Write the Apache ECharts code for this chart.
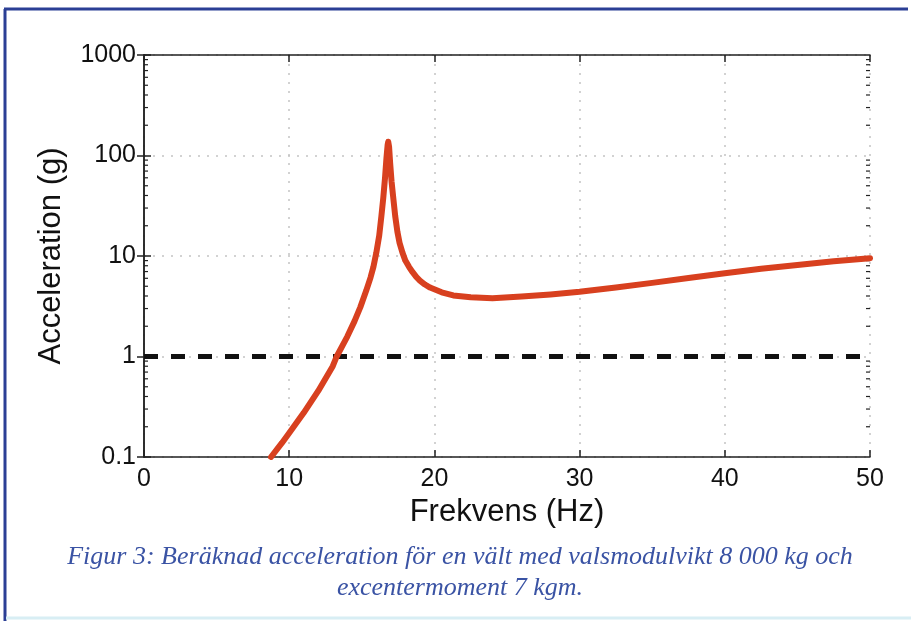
<!DOCTYPE html>
<html>
<head>
<meta charset="utf-8">
<script src="https://cdn.jsdelivr.net/npm/echarts@6/dist/echarts.min.js"></script>
<style>
  html, body { margin: 0; padding: 0; background: #fff; }
  #chart { width: 911px; height: 621px; }
</style>
</head>
<body>
<div id="chart"></div>
<script>
// frequency (Hz) and acceleration (g)
const freq = [
  8.75, 9.5, 10, 11, 12, 13, 13.27, 14, 14.5, 14.9, 15.3, 15.6, 15.8, 16.0, 16.2,
  16.35, 16.48, 16.6, 16.7, 16.78, 16.82, 16.88, 16.95, 17.05, 17.15, 17.3, 17.45,
  17.6, 17.8, 18.0, 18.25, 18.5, 18.75, 19.0, 19.35, 19.7, 20.5, 21.3, 22.5, 24,
  26, 28, 30, 32.5, 35, 37.5, 40, 42.5, 45, 47.5, 50
]
const accel = [
  0.1, 0.138, 0.173, 0.275, 0.454, 0.8, 1.0, 1.58, 2.25, 3.1, 4.5, 6.1, 7.8, 10.8, 16,
  25, 38, 60, 95, 128, 137, 122, 85, 55, 40, 25, 17.5,
  13.5, 10.8, 9.0, 7.8, 6.9, 6.2, 5.7, 5.2, 4.85, 4.35, 4.05, 3.88, 3.8,
  3.95, 4.15, 4.4, 4.85, 5.4, 6.05, 6.75, 7.45, 8.15, 8.85, 9.5
]
const limitX = [0, 50]
const limitY = [1, 1]
const minorDecades = [0.1, 1, 10, 100]
const minorSteps = [2, 3, 4, 5, 6, 7, 8, 9]

const chart = echarts.init(document.getElementById('chart'))

const axisLine = { lineStyle: { color: '#222', width: 1.5 } }
const axisTick = { inside: true, length: 7, lineStyle: { color: '#222', width: 1.5 } }
const gridLine = { show: true, lineStyle: { color: '#c4c4c4', type: [2, 7], width: 1.5 } }
const tickFont = { color: '#111', fontSize: 25, fontFamily: 'Liberation Sans, Arial, sans-serif' }
const nameFont = { color: '#111', fontSize: 31, fontFamily: 'Liberation Sans, Arial, sans-serif' }

chart.setOption({
  animation: false,
  backgroundColor: '#fff',
  grid: { left: 144, right: 41, top: 55, bottom: 164 },
  xAxis: [
    {
      type: 'value', min: 0, max: 50, interval: 10,
      axisLine: { show: true, ...axisLine },
      axisTick,
      axisLabel: { ...tickFont, margin: 10 },
      splitLine: gridLine,
      name: 'Frekvens (Hz)', nameLocation: 'middle', nameGap: 40, nameTextStyle: nameFont
    },
    {
      type: 'value', min: 0, max: 50, interval: 10, position: 'top',
      axisLine: { show: true, ...axisLine },
      axisTick,
      axisLabel: { show: false },
      splitLine: { show: false }
    }
  ],
  yAxis: [
    {
      type: 'log', logBase: 10, min: 0.1, max: 1000,
      axisLine: { show: true, ...axisLine },
      axisTick,
      axisLabel: { ...tickFont, margin: 8, formatter: (v) => String(Math.round(v * 10) / 10) },
      splitLine: gridLine,
      name: 'Acceleration (g)', nameLocation: 'middle', nameGap: 77, nameTextStyle: nameFont
    },
    {
      type: 'log', logBase: 10, min: 0.1, max: 1000, position: 'right',
      axisLine: { show: true, ...axisLine },
      axisTick,
      axisLabel: { show: false },
      splitLine: { show: false }
    }
  ],
  series: [
    {
      type: 'line',
      data: limitX.map((x, i) => [x, limitY[i]]),
      showSymbol: false,
      lineStyle: { color: '#111', width: 5, type: [14, 13] },
      z: 2
    },
    {
      type: 'line',
      data: freq.map((f, i) => [f, accel[i]]),
      showSymbol: false,
      clip: true,
      lineStyle: { color: '#d8401f', width: 6, cap: 'round', join: 'round' },
      z: 3
    }
  ]
})

// frame, caption and minor ticks (2..9 of each decade) in one graphic list
const graphics = [
  { type: 'line', shape: { x1: 5, y1: 9, x2: 5, y2: 621 }, style: { stroke: '#2b3f95', lineWidth: 3 } },
  { type: 'line', shape: { x1: 4, y1: 9, x2: 908, y2: 9 }, style: { stroke: '#2b3f95', lineWidth: 3 } },
  { type: 'line', shape: { x1: 6, y1: 618, x2: 911, y2: 618 }, style: { stroke: '#d8eef4', lineWidth: 3 } },
  {
    type: 'text', x: 460, y: 542,
    style: {
      text: 'Figur 3: Beräknad acceleration för en vält med valsmodulvikt 8 000 kg och\nexcentermoment 7 kgm.',
      fill: '#3a53a4', fontStyle: 'italic', fontWeight: 'normal', fontSize: 26,
      fontFamily: 'Liberation Serif, DejaVu Serif, serif',
      align: 'center', verticalAlign: 'top', lineHeight: 31
    }
  }
]
const xl = chart.convertToPixel({ xAxisIndex: 0 }, 0)
const xr = chart.convertToPixel({ xAxisIndex: 0 }, 50)
minorDecades.forEach((d) => {
  minorSteps.forEach((s) => {
    const y = chart.convertToPixel({ yAxisIndex: 0 }, d * s)
    graphics.push({ type: 'line', shape: { x1: xl, y1: y, x2: xl + 4, y2: y }, style: { stroke: '#222', lineWidth: 1.2 } })
    graphics.push({ type: 'line', shape: { x1: xr, y1: y, x2: xr - 4, y2: y }, style: { stroke: '#222', lineWidth: 1.2 } })
  })
})
chart.setOption({ graphic: graphics })
</script>
</body>
</html>
